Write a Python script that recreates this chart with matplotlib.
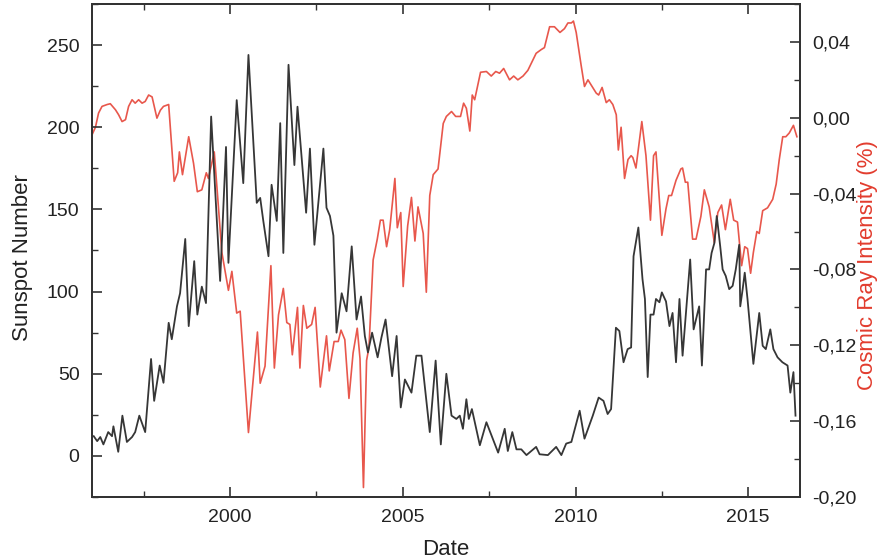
import matplotlib
matplotlib.use('Agg')
import matplotlib.pyplot as plt
from matplotlib.ticker import MultipleLocator, FuncFormatter

plt.rcParams['font.family'] = ['Liberation Sans', 'DejaVu Sans']

# monthly sunspot number
ssn_year = [1996.05, 1996.15, 1996.24, 1996.33, 1996.47, 1996.58, 1996.62, 1996.76, 1996.88, 1997.01,
            1997.16, 1997.25, 1997.37, 1997.54, 1997.71, 1997.80, 1997.96, 1998.07, 1998.22, 1998.31,
            1998.46, 1998.55, 1998.70, 1998.80, 1998.96, 1999.05, 1999.18, 1999.30, 1999.45, 1999.71,
            1999.88, 1999.95, 2000.19, 2000.38, 2000.53, 2000.77, 2000.87, 2000.96, 2001.11, 2001.20,
            2001.35, 2001.45, 2001.54, 2001.69, 2001.86, 2001.95, 2002.20, 2002.31, 2002.44, 2002.70,
            2002.79, 2002.89, 2002.99, 2003.08, 2003.23, 2003.37, 2003.52, 2003.66, 2003.79, 2003.90,
            2003.99, 2004.11, 2004.27, 2004.38, 2004.50, 2004.69, 2004.82, 2004.94, 2005.06, 2005.25,
            2005.39, 2005.54, 2005.78, 2005.95, 2006.10, 2006.26, 2006.41, 2006.55, 2006.65, 2006.74,
            2006.84, 2006.91, 2007.00, 2007.23, 2007.42, 2007.76, 2007.95, 2008.04, 2008.17, 2008.29,
            2008.43, 2008.58, 2008.86, 2008.96, 2009.20, 2009.44, 2009.59, 2009.73, 2009.88, 2010.12,
            2010.26, 2010.50, 2010.67, 2010.81, 2010.93, 2011.03, 2011.17, 2011.27, 2011.39, 2011.51,
            2011.61, 2011.68, 2011.82, 2011.94, 2012.01, 2012.09, 2012.17, 2012.26, 2012.33, 2012.43,
            2012.50, 2012.62, 2012.72, 2012.81, 2012.91, 2013.01, 2013.10, 2013.32, 2013.42, 2013.58,
            2013.66, 2013.78, 2013.87, 2013.94, 2014.02, 2014.09, 2014.19, 2014.26, 2014.35, 2014.45,
            2014.55, 2014.64, 2014.74, 2014.77, 2014.84, 2014.90, 2014.98, 2015.15, 2015.32, 2015.42,
            2015.51, 2015.64, 2015.73, 2015.85, 2015.99, 2016.14, 2016.22, 2016.31, 2016.37]
ssn_value = [12, 9, 11.5, 7, 14.5, 12, 18, 2.5, 24.5, 8.5,
             11.5, 14.5, 24.5, 14.5, 59, 33.5, 55, 44.5, 81, 71,
             91, 99, 132, 79, 118.5, 86, 103, 93, 206.5, 106.5,
             188, 117.5, 216.5, 166, 244, 154, 157, 143, 121.5, 165,
             143, 202.5, 123.5, 238, 177, 212.5, 148, 187, 128.5, 187,
             151, 146, 134, 75, 99, 88, 127.5, 83, 97, 73,
             63, 75, 60, 72, 83, 48.5, 73, 29.5, 46.5, 38.5,
             61, 61, 14.5, 58, 7, 50, 24.5, 22.5, 24.5, 16.5,
             34.5, 22.5, 28.5, 6.5, 20.5, 2, 16.5, 3, 14.5, 4,
             4, 0.5, 5.5, 1, 0.5, 5.5, 0.5, 7.5, 8.5, 27.5,
             10.5, 24.5, 35.5, 33.5, 25.5, 28.5, 78, 76, 57, 65,
             66, 121.5, 139, 107.5, 95.5, 48, 86, 86, 95.5, 93.5,
             99.5, 94, 79, 87, 57, 95.5, 61, 119.5, 77, 91,
             55, 113.5, 113.5, 123.5, 129.5, 146, 127.5, 113.5, 109.5, 101.5,
             103.5, 113.5, 128.5, 91, 101.5, 111.5, 95.5, 56, 87, 67,
             65, 77, 65, 60, 57, 55, 38.5, 51, 24.5]

# cosmic ray intensity (%)
cr_year = [1996.00, 1996.10, 1996.19, 1996.29, 1996.44, 1996.53, 1996.68, 1996.77, 1996.87, 1996.97,
           1997.06, 1997.16, 1997.25, 1997.35, 1997.45, 1997.54, 1997.64, 1997.74, 1997.88, 1997.98,
           1998.07, 1998.22, 1998.38, 1998.48, 1998.53, 1998.62, 1998.80, 1998.94, 1999.05, 1999.18,
           1999.31, 1999.37, 1999.54, 1999.76, 1999.95, 2000.05, 2000.19, 2000.29, 2000.53, 2000.79,
           2000.87, 2001.01, 2001.18, 2001.28, 2001.40, 2001.54, 2001.64, 2001.73, 2001.80, 2001.95,
           2002.02, 2002.12, 2002.22, 2002.36, 2002.46, 2002.61, 2002.79, 2002.87, 2003.01, 2003.13,
           2003.21, 2003.32, 2003.44, 2003.56, 2003.68, 2003.76, 2003.86, 2003.95, 2004.02, 2004.14,
           2004.26, 2004.35, 2004.43, 2004.53, 2004.62, 2004.77, 2004.84, 2004.94, 2005.01, 2005.14,
           2005.25, 2005.35, 2005.44, 2005.59, 2005.68, 2005.78, 2005.88, 2006.02, 2006.17, 2006.26,
           2006.41, 2006.53, 2006.67, 2006.76, 2006.84, 2006.94, 2007.01, 2007.08, 2007.25, 2007.42,
           2007.56, 2007.69, 2007.80, 2007.92, 2008.09, 2008.21, 2008.33, 2008.48, 2008.62, 2008.86,
           2009.01, 2009.10, 2009.25, 2009.39, 2009.55, 2009.68, 2009.78, 2009.88, 2009.94, 2010.02,
           2010.16, 2010.26, 2010.36, 2010.48, 2010.60, 2010.67, 2010.77, 2010.89, 2010.98, 2011.08,
           2011.18, 2011.24, 2011.32, 2011.42, 2011.52, 2011.61, 2011.66, 2011.75, 2011.92, 2012.04,
           2012.17, 2012.26, 2012.33, 2012.50, 2012.62, 2012.70, 2012.78, 2012.91, 2013.05, 2013.10,
           2013.18, 2013.25, 2013.39, 2013.49, 2013.63, 2013.73, 2013.87, 2014.02, 2014.12, 2014.23,
           2014.34, 2014.48, 2014.58, 2014.69, 2014.81, 2014.90, 2014.98, 2015.07, 2015.15, 2015.25,
           2015.32, 2015.42, 2015.56, 2015.71, 2015.81, 2015.90, 2016.00, 2016.09, 2016.19, 2016.31,
           2016.41]
cr_value = [-0.009, -0.005, 0.0025, 0.006, 0.007, 0.0074, 0.0042, 0.0016, -0.002, -0.001,
            0.006, 0.0095, 0.0077, 0.0095, 0.0077, 0.0086, 0.012, 0.011, -0.0002, 0.004,
            0.006, 0.007, -0.0335, -0.029, -0.018, -0.030, -0.010, -0.024, -0.039, -0.038,
            -0.029, -0.032, -0.018, -0.071, -0.091, -0.081, -0.103, -0.102, -0.166, -0.113,
            -0.140, -0.131, -0.078, -0.132, -0.104, -0.090, -0.108, -0.109, -0.125, -0.100,
            -0.132, -0.099, -0.111, -0.109, -0.100, -0.142, -0.115, -0.1335, -0.118, -0.118,
            -0.112, -0.117, -0.148, -0.124, -0.111, -0.127, -0.195, -0.128, -0.121, -0.075,
            -0.064, -0.054, -0.054, -0.068, -0.059, -0.032, -0.058, -0.050, -0.089, -0.057,
            -0.042, -0.065, -0.047, -0.061, -0.092, -0.041, -0.030, -0.027, -0.003, 0.0007,
            0.0033, 0.0007, 0.0007, 0.0077, 0.005, -0.007, 0.012, 0.0095, 0.024, 0.0244,
            0.022, 0.0244, 0.0235, 0.026, 0.020, 0.022, 0.020, 0.022, 0.025, 0.034,
            0.036, 0.037, 0.048, 0.048, 0.045, 0.047, 0.050, 0.050, 0.051, 0.045,
            0.028, 0.0165, 0.020, 0.0165, 0.013, 0.012, 0.016, 0.008, 0.0095, 0.007,
            0.0016, -0.017, -0.005, -0.032, -0.022, -0.020, -0.021, -0.0265, -0.002, -0.020,
            -0.054, -0.020, -0.018, -0.062, -0.048, -0.041, -0.041, -0.033, -0.027, -0.0265,
            -0.034, -0.034, -0.064, -0.064, -0.052, -0.038, -0.047, -0.066, -0.050, -0.046,
            -0.059, -0.043, -0.054, -0.055, -0.078, -0.068, -0.069, -0.082, -0.071, -0.060,
            -0.061, -0.049, -0.0475, -0.043, -0.035, -0.022, -0.010, -0.010, -0.008, -0.004,
            -0.010]

black = '#363636'
red = '#e8574c'
label_red = '#e23c2e'


def comma_fmt(v, pos):
    if abs(v) < 1e-9:
        v = 0.0
    return f'{v:.2f}'.replace('.', ',')


fig = plt.figure(figsize=(8.91, 5.6), dpi=100)
ax = fig.add_axes([92 / 891, 63 / 560, 708 / 891, 493 / 560])
ax2 = ax.twinx()

ax2.plot(cr_year, cr_value, color=red, linewidth=1.2)
ax.plot(ssn_year, ssn_value, color=black, linewidth=1.3)

# sunspots drawn above the cosmic ray curve
ax.set_zorder(ax2.get_zorder() + 1)
ax.patch.set_visible(False)

ax.set_xlim(1996, 2016.5)
ax.set_ylim(-25, 275)
ax2.set_ylim(-0.20, 0.06)

ax.xaxis.set_major_locator(MultipleLocator(5))
ax.xaxis.set_minor_locator(MultipleLocator(2.5))
ax.yaxis.set_major_locator(MultipleLocator(50))
ax.yaxis.set_minor_locator(MultipleLocator(25))
ax2.yaxis.set_major_locator(MultipleLocator(0.04))
ax2.yaxis.set_minor_locator(MultipleLocator(0.02))
ax2.yaxis.set_major_formatter(FuncFormatter(comma_fmt))

for a in (ax, ax2):
    for s in a.spines.values():
        s.set_linewidth(1.4)
        s.set_color('#333333')

ax.tick_params(axis='x', which='both', direction='in', top=True, bottom=True,
               labelsize=14, pad=9, colors='#333333', labelcolor='#222222')
ax.tick_params(axis='y', which='both', direction='in', left=True, right=False,
               labelsize=14, pad=9, colors='#333333', labelcolor='#222222')
ax2.tick_params(axis='y', which='both', direction='in', labelsize=14, pad=9,
                colors='#333333', labelcolor='#222222')
ax.tick_params(which='major', length=7, width=1.2)
ax.tick_params(which='minor', length=4, width=1.0)
ax2.tick_params(which='major', length=7, width=1.2)
ax2.tick_params(which='minor', length=4, width=1.0)

ax.set_xlabel('Date', fontsize=16, color='#222222', labelpad=9)
ax.set_ylabel('Sunspot Number', fontsize=16, color='#222222')
ax2.set_ylabel('Cosmic Ray Intensity (%)', fontsize=16, color=label_red)
ax.yaxis.set_label_coords(-0.083, 0.485)
ax2.yaxis.set_label_coords(1.08, 0.47)

fig.savefig('out.png', dpi=100)
